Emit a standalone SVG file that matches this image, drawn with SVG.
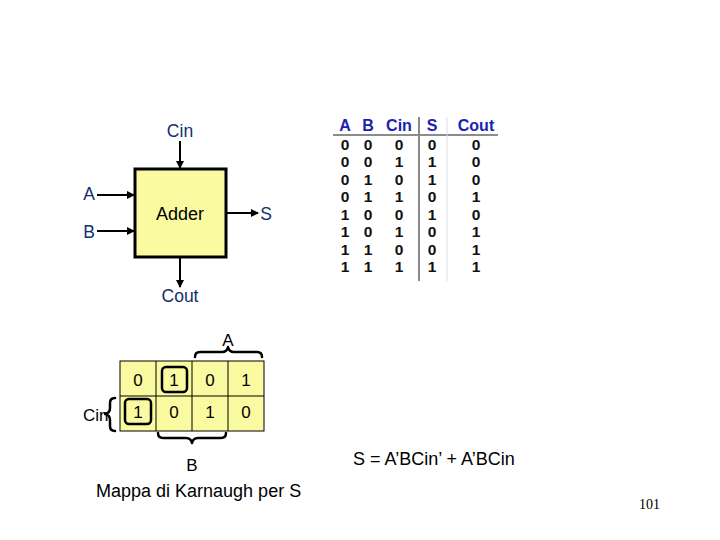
<svg xmlns="http://www.w3.org/2000/svg" width="720" height="540" viewBox="0 0 720 540">
<style>
.lbl{font-family:"Liberation Sans",Arial,sans-serif;font-size:17.5px;fill:#12306e}
.blk{font-family:"Liberation Sans",Arial,sans-serif;font-size:18px;fill:#000}
.th{font-family:"Liberation Sans",Arial,sans-serif;font-size:16px;font-weight:bold;fill:#1a22b0;text-anchor:middle}
.td{font-family:"Liberation Sans",Arial,sans-serif;font-size:15.5px;font-weight:bold;fill:#111;text-anchor:middle}
.km{font-family:"Liberation Sans",Arial,sans-serif;font-size:17px;fill:#000;text-anchor:middle}
.wire{stroke:#000;stroke-width:2;fill:none}
.brace{stroke:#000;stroke-width:2.5;fill:none;stroke-linecap:round;stroke-linejoin:round}
</style>
<defs>
<marker id="ah" markerWidth="8" markerHeight="8" refX="7" refY="4" orient="auto" markerUnits="userSpaceOnUse">
<path d="M0,0 L8,4 L0,8 Z" fill="#000"/>
</marker>
</defs>
<rect width="720" height="540" fill="#fff"/>

<g id="adder">
<rect x="135" y="169" width="91" height="88" fill="#fafaa0" stroke="#000" stroke-width="3"/>
<text x="180" y="220" class="blk" text-anchor="middle">Adder</text>
</g>
<g id="label-cin"><text x="180" y="137" class="lbl" text-anchor="middle">Cin</text></g>
<g id="label-a"><text x="89" y="200" class="lbl" text-anchor="middle">A</text></g>
<g id="label-b"><text x="89" y="238" class="lbl" text-anchor="middle">B</text></g>
<g id="label-s"><text x="266" y="220" class="lbl" text-anchor="middle">S</text></g>
<g id="label-cout"><text x="180" y="302" class="lbl" text-anchor="middle">Cout</text></g>

<g id="connectors">
<line x1="180" y1="141" x2="180" y2="168" class="wire" marker-end="url(#ah)"/>
<line x1="97" y1="195" x2="134" y2="195" class="wire" marker-end="url(#ah)"/>
<line x1="97" y1="231" x2="134" y2="231" class="wire" marker-end="url(#ah)"/>
<line x1="227" y1="213" x2="258" y2="213" class="wire" marker-end="url(#ah)"/>
<line x1="180" y1="258" x2="180" y2="287" class="wire" marker-end="url(#ah)"/>
</g>

<g id="truth-table">
<line x1="333" y1="135" x2="498" y2="135" stroke="#666" stroke-width="1.5"/>
<line x1="419" y1="117" x2="419" y2="281" stroke="#888" stroke-width="2"/>
<line x1="447" y1="117" x2="447" y2="281" stroke="#ddd" stroke-width="1"/>
<text x="345" y="131" class="th">A</text>
<text x="368" y="131" class="th">B</text>
<text x="399" y="131" class="th">Cin</text>
<text x="432" y="131" class="th">S</text>
<text x="476" y="131" class="th">Cout</text>
<g class="rows">
<text x="345" y="150" class="td">0</text><text x="368" y="150" class="td">0</text><text x="399" y="150" class="td">0</text><text x="432" y="150" class="td">0</text><text x="476" y="150" class="td">0</text>
<text x="345" y="167" class="td">0</text><text x="368" y="167" class="td">0</text><text x="399" y="167" class="td">1</text><text x="432" y="167" class="td">1</text><text x="476" y="167" class="td">0</text>
<text x="345" y="185" class="td">0</text><text x="368" y="185" class="td">1</text><text x="399" y="185" class="td">0</text><text x="432" y="185" class="td">1</text><text x="476" y="185" class="td">0</text>
<text x="345" y="202" class="td">0</text><text x="368" y="202" class="td">1</text><text x="399" y="202" class="td">1</text><text x="432" y="202" class="td">0</text><text x="476" y="202" class="td">1</text>
<text x="345" y="220" class="td">1</text><text x="368" y="220" class="td">0</text><text x="399" y="220" class="td">0</text><text x="432" y="220" class="td">1</text><text x="476" y="220" class="td">0</text>
<text x="345" y="237" class="td">1</text><text x="368" y="237" class="td">0</text><text x="399" y="237" class="td">1</text><text x="432" y="237" class="td">0</text><text x="476" y="237" class="td">1</text>
<text x="345" y="255" class="td">1</text><text x="368" y="255" class="td">1</text><text x="399" y="255" class="td">0</text><text x="432" y="255" class="td">0</text><text x="476" y="255" class="td">1</text>
<text x="345" y="272" class="td">1</text><text x="368" y="272" class="td">1</text><text x="399" y="272" class="td">1</text><text x="432" y="272" class="td">1</text><text x="476" y="272" class="td">1</text>
</g>
</g>

<g id="kmap">
<rect x="120" y="361" width="144" height="70" fill="#fafaa0" stroke="#000" stroke-width="1"/>
<line x1="120" y1="396" x2="264" y2="396" stroke="#000" stroke-width="1"/>
<line x1="156" y1="361" x2="156" y2="431" stroke="#000" stroke-width="1"/>
<line x1="192" y1="361" x2="192" y2="431" stroke="#000" stroke-width="1"/>
<line x1="228" y1="361" x2="228" y2="431" stroke="#000" stroke-width="1"/>
<rect x="162" y="367" width="25" height="25" rx="4" fill="none" stroke="#000" stroke-width="2.5"/>
<rect x="125" y="399" width="26" height="25" rx="4" fill="none" stroke="#000" stroke-width="2.5"/>
<text x="138" y="386" class="km">0</text>
<text x="174" y="386" class="km">1</text>
<text x="210" y="386" class="km">0</text>
<text x="246" y="386" class="km">1</text>
<text x="138" y="418" class="km">1</text>
<text x="174" y="418" class="km">0</text>
<text x="210" y="418" class="km">1</text>
<text x="246" y="418" class="km">0</text>
</g>

<g id="brace-a">
<path d="M195,357 Q195,352 200,352 L222,352 Q227,352 228,347 Q229,352 234,352 L257,352 Q262,352 262,357" class="brace"/>
<text x="228" y="346" class="km">A</text>
</g>
<g id="brace-b">
<path d="M158,433 Q158,438 163,438 L186,438 Q191,438 192,443 Q193,438 198,438 L221,438 Q226,438 226,433" class="brace"/>
<text x="192" y="471" class="km">B</text>
</g>
<g id="brace-cin">
<text x="83" y="421" font-family="Liberation Sans,Arial,sans-serif" font-size="17" fill="#000">Cin</text>
<path d="M115,398 Q110,398 110,403 L110,408 Q110,413 105,414 Q110,415 110,420 L110,426 Q110,431 115,431" class="brace"/>
</g>

<g id="formula"><text x="353" y="465" class="blk" font-size="18.5">S = A’BCin’ + A’BCin</text></g>
<g id="caption"><text x="96" y="497" class="blk" font-size="19">Mappa di Karnaugh per S</text></g>
<g id="page"><text x="639" y="509" font-family="Liberation Serif,Times New Roman,serif" font-size="14" fill="#000">101</text></g>
</svg>
